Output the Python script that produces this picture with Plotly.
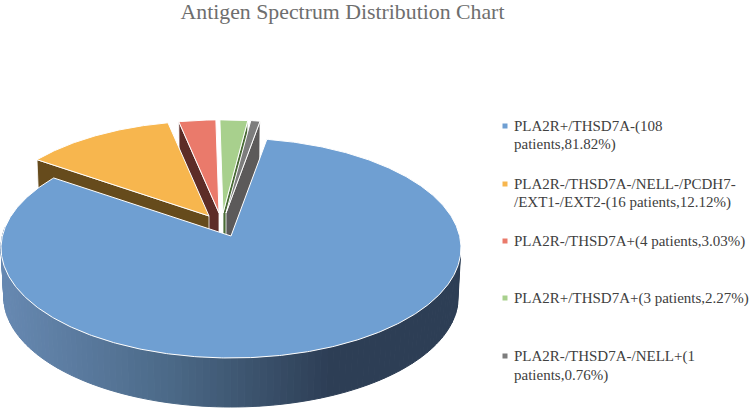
import numpy as np
import plotly.graph_objects as go

# Antigen groups, in the order they run clockwise around the pie
entries = [
    "PLA2R+/THSD7A-(108<br>patients,81.82%)",
    "PLA2R-/THSD7A-/NELL-/PCDH7-<br>/EXT1-/EXT2-(16 patients,12.12%)",
    "PLA2R-/THSD7A+(4 patients,3.03%)",
    "PLA2R+/THSD7A+(3 patients,2.27%)",
    "PLA2R-/THSD7A-/NELL+(1<br>patients,0.76%)",
]
patients = [108, 16, 4, 3, 1]
title = "Antigen Spectrum Distribution Chart"

# Styling and layout of the tilted pie
top_colors = ["#6f9fd2", "#f7b64e", "#ea7a6b", "#a8d08d", "#7d7d7d"]
wall_colors = ["#2f4058", "#664b1c", "#5d2c27", "#4a6b36", "#5c5a5a"]
legend_line_y = [[126, 144], [184, 202], [241], [298], [356, 375]]
legend_marker_y = [126, 184, 241, 298, 356]
apex = [(231, 236), (209, 216), (219, 213), (223, 213), (226, 213)]
scale = [1.0, 0.97, 0.95, 0.95, 0.95]
draw_order = [3, 4, 2, 1, 0]
START_DEG = 10.0
RX, RY, TILT = 228.6, 108.7, 0.109
DEPTH = 49.0
FLOOR_SHRINK = 0.988


def rim(theta_deg, ax, ay, r=1.0, drop=0.0, shrink=1.0):
    """Project a rim point of the tilted disc to screen coordinates."""
    t = np.radians(theta_deg)
    den = 1 + TILT * np.cos(t)
    return (ax + r * shrink * RX * np.sin(t) / den,
            ay + drop - r * RY * np.cos(t) / den)


def polygon(fig, x, y, fill, line="#ffffff", width=1.0):
    fig.add_trace(go.Scatter(
        x=list(x), y=list(y), mode="lines", fill="toself", fillcolor=fill,
        line=dict(color=line, width=width), hoverinfo="skip", showlegend=False,
    ))


def wall_shade(x):
    stops_x = [0, 170, 330]
    r = np.interp(x, stops_x, [103, 75, 45])
    g = np.interp(x, stops_x, [137, 105, 62])
    b = np.interp(x, stops_x, [178, 135, 85])
    return f"rgb({r:.0f},{g:.0f},{b:.0f})"


fig = go.Figure()

# Slice boundaries in degrees, clockwise from the back of the disc
sweep = 360 * np.array(patients) / sum(patients)
bounds = START_DEG + np.concatenate([[0], np.cumsum(sweep)])
ranges = [(bounds[i], bounds[i + 1]) for i in range(len(patients))]

for i in draw_order:
    a0, a1 = ranges[i]
    ax, ay = apex[i]
    r = scale[i]
    thetas = np.linspace(a0, a1, max(6, int(a1 - a0) * 2))
    tx, ty = rim(thetas, ax, ay, r)

    if i == 0:
        # Front rim of the big slice, shaded left to right in thin strips
        band = np.linspace(100, a1 - 30, 110)
        for u, v in zip(band[:-1], band[1:]):
            x0, y0 = rim(u, ax, ay)
            x1, y1 = rim(v, ax, ay)
            x2, y2 = rim(v, ax, ay, drop=DEPTH, shrink=FLOOR_SHRINK)
            x3, y3 = rim(u, ax, ay, drop=DEPTH, shrink=FLOOR_SHRINK)
            c = wall_shade((x0 + x1) / 2)
            polygon(fig, [x0, x1, x2, x3, x0], [y0, y1, y2, y3, y0], c, line=c, width=1)
    else:
        # Cut faces seen from the front
        edge = a0 if i in (1, 2) else a1
        ox, oy = rim(edge, ax, ay, r)
        bx, by = rim(edge, ax, ay, r, drop=DEPTH, shrink=FLOOR_SHRINK)
        polygon(fig, [ax, ox, bx, ax, ax], [ay, oy, by, ay + DEPTH, ay],
                wall_colors[i], width=0.8)

    polygon(fig, [ax, *tx, ax], [ay, *ty, ay], top_colors[i], width=1.0)

# Legend swatches and wrapped labels, one text item per line
fig.add_trace(go.Scatter(
    x=[505] * len(entries), y=legend_marker_y, mode="markers",
    marker=dict(symbol="square", size=5, color=top_colors, line=dict(width=0)),
    hoverinfo="skip", showlegend=False,
))
annotations = []
for text, ys in zip(entries, legend_line_y):
    for line, yy in zip(text.split("<br>"), ys):
        annotations.append(dict(
            x=511.5, y=yy, xref="x", yref="y", text=line, showarrow=False,
            xanchor="left", yanchor="middle", align="left",
            font=dict(family="Liberation Serif", size=15, color="#404040"),
        ))

fig.update_layout(
    width=751, height=411, margin=dict(l=0, r=0, t=0, b=0),
    paper_bgcolor="white", plot_bgcolor="white", showlegend=False,
    title=dict(text=title, x=342.5 / 751, xanchor="center", y=0.972, yanchor="middle",
               font=dict(family="Liberation Serif", size=21.8, color="#6e6e6e")),
    xaxis=dict(range=[0, 751], visible=False, fixedrange=True),
    yaxis=dict(range=[411, 0], visible=False, fixedrange=True),
    annotations=annotations,
)

fig.write_html("out.html")
